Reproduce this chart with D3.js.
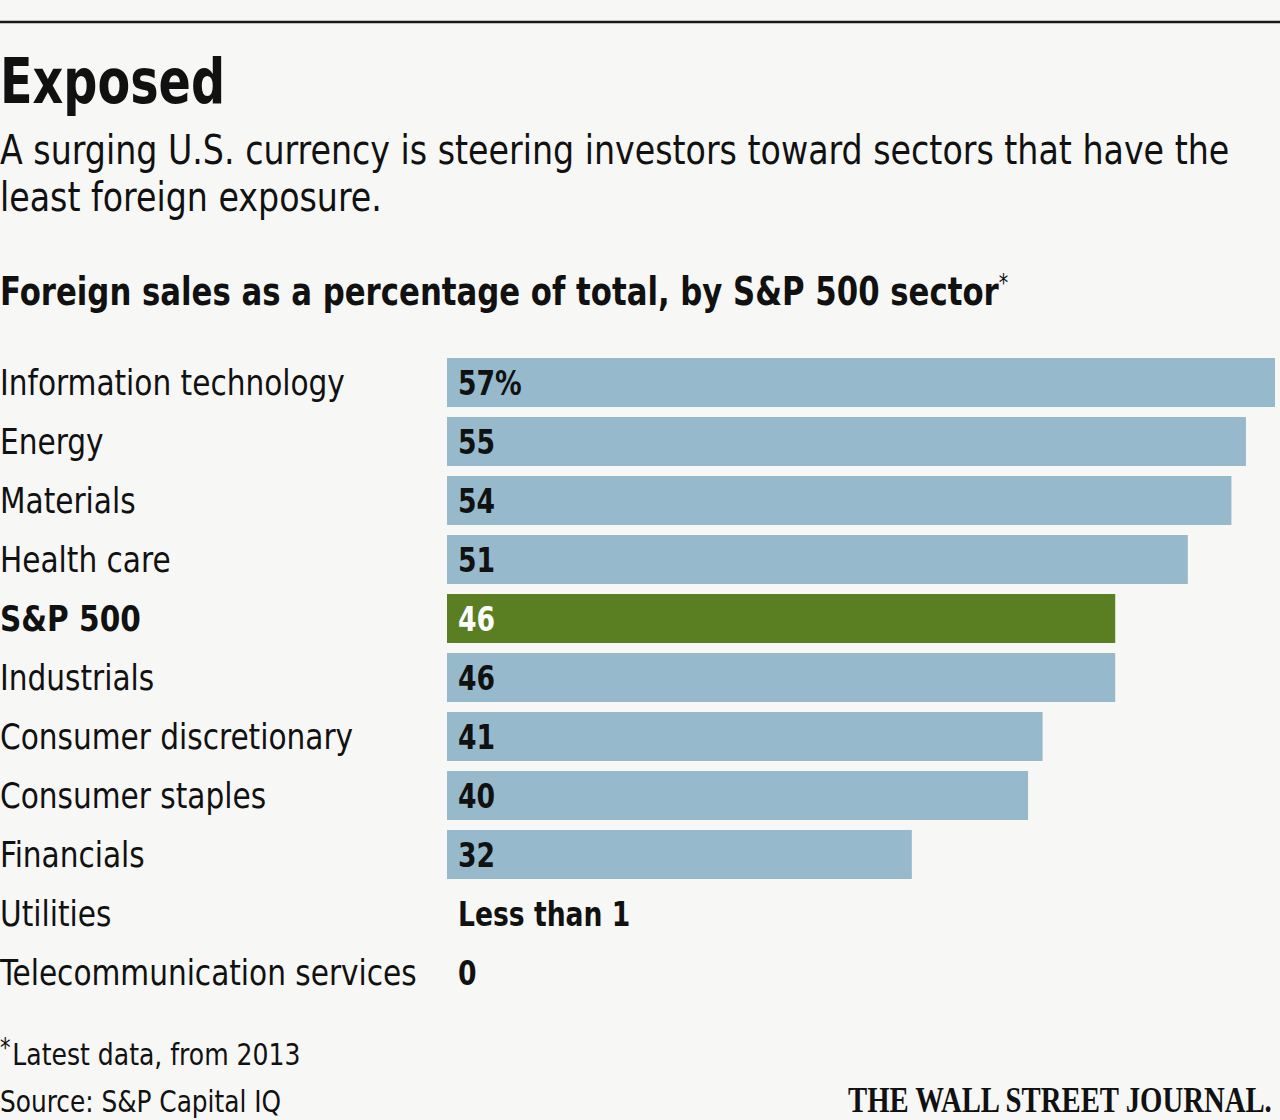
<!DOCTYPE html>
<html>
<head>
<meta charset="utf-8">
<script src="https://cdn.jsdelivr.net/npm/d3@7"></script>
<style>
  body { margin: 0; background: #f7f7f6; }
  svg { display: block; }
  .sans { font-family: "DejaVu Sans Condensed", "DejaVu Sans", sans-serif; font-stretch: condensed; }
</style>
</head>
<body>
<div id="chart"></div>
<script>
// sectors, top to bottom
var sectors = ['Information technology', 'Energy', 'Materials', 'Health care', 'S&P 500',
  'Industrials', 'Consumer discretionary', 'Consumer staples', 'Financials', 'Utilities',
  'Telecommunication services'];
// foreign sales, % of total (utilities "less than 1", drawn as no bar)
var foreignSales = [57, 55, 54, 51, 46, 46, 41, 40, 32, 0, 0];
var valueLabels = ['57%', '55', '54', '51', '46', '46', '41', '40', '32', 'Less than 1', '0'];
var highlight = 'S&P 500';

var width = 1280, height = 1120;
var svg = d3.select('#chart').append('svg')
    .attr('width', width)
    .attr('height', height);

svg.append('rect').attr('width', width).attr('height', height).attr('fill', '#f7f7f6');

// the WSJ face is narrower than anything installed, so squeeze text sideways
function place(x, y, k) {
    return 'translate(' + x + ',' + y + ') scale(' + k + ',1)';
}

// top rule
svg.append('line')
    .attr('x1', 0).attr('x2', width)
    .attr('y1', 22).attr('y2', 22)
    .attr('stroke', '#1a1a1a').attr('stroke-width', 2.5);

var head = svg.append('g').attr('class', 'sans').attr('fill', '#111');
head.append('text').attr('transform', place(0, 103, 0.855))
    .style('font-size', '62px').style('font-weight', 'bold')
    .text('Exposed');
head.append('text').attr('transform', place(0, 164, 0.925))
    .style('font-size', '40px')
    .text('A surging U.S. currency is steering investors toward sectors that have the');
head.append('text').attr('transform', place(0, 211, 0.925))
    .style('font-size', '40px')
    .text('least foreign exposure.');
var sub = head.append('text').attr('transform', place(0, 305, 0.877))
    .style('font-size', '39px').style('font-weight', 'bold')
    .text('Foreign sales as a percentage of total, by S&P 500 sector');
sub.append('tspan').attr('dy', -14).style('font-size', '24px').style('font-weight', 'normal').text('*');

var x = d3.scaleLinear()
    .domain([0, 57])
    .range([447, 1275]);

var y = d3.scaleBand()
    .domain(sectors)
    .range([353, 1002])
    .paddingInner(0.17)
    .paddingOuter(0.085);

var rows = svg.append('g').attr('class', 'sans')
  .selectAll('.row')
    .data(sectors)
  .enter().append('g')
    .attr('class', 'row');

rows.filter(function (d, i) { return foreignSales[i] > 0; })
  .append('rect')
    .attr('x', x(0))
    .attr('y', function (d) { return y(d); })
    .attr('width', function (d) { return x(foreignSales[sectors.indexOf(d)]) - x(0); })
    .attr('height', y.bandwidth())
    .attr('fill', function (d) { return d == highlight ? '#5a7f23' : '#96bacb'; });

rows.append('text')
    .attr('transform', function (d) { return place(0, y(d) + y.bandwidth() / 2, 0.94); })
    .attr('dy', '0.36em')
    .style('font-size', '35px')
    .style('font-weight', function (d) { return d == highlight ? 'bold' : 'normal'; })
    .attr('fill', '#111')
    .text(function (d) { return d; });

rows.append('text')
    .attr('transform', function (d) { return place(458, y(d) + y.bandwidth() / 2, 0.87); })
    .attr('dy', '0.36em')
    .style('font-size', '34px')
    .style('font-weight', 'bold')
    .attr('fill', function (d) { return d == highlight ? '#fff' : '#111'; })
    .text(function (d, i) { return valueLabels[i]; });

var foot = svg.append('g').attr('class', 'sans').attr('fill', '#111').style('font-size', '31px');
var note = foot.append('text').attr('transform', place(0, 1065, 0.9));
note.append('tspan').attr('dy', -8).style('font-size', '26px').text('*');
note.append('tspan').attr('dy', 8).attr('dx', 2).text('Latest data, from 2013');
foot.append('text').attr('transform', place(0, 1112, 0.89)).text('Source: S&P Capital IQ');

// nameplate, fitted to the reference width
var logo = svg.append('text')
    .attr('fill', '#111')
    .style('font-family', '"Liberation Serif", "DejaVu Serif", serif')
    .style('font-size', '36px')
    .style('font-weight', 'bold')
    .text('THE WALL STREET JOURNAL.');
var lw = logo.node().getComputedTextLength();
logo.attr('transform', place(1272 - 424, 1112, 424 / lw));
</script>
</body>
</html>
